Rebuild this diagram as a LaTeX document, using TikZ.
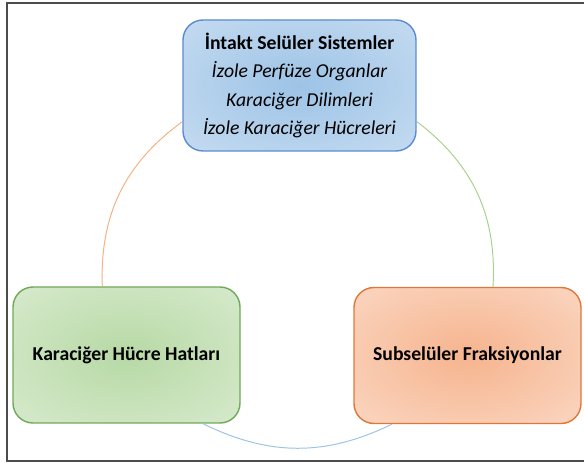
\documentclass[tikz,border=0pt]{standalone}
\usepackage{fontspec}
\setmainfont{Carlito}
\definecolor{blueline}{HTML}{5B8BD0}
\definecolor{bluein}{HTML}{9DC3E6}
\definecolor{blueout}{HTML}{D5E5F5}
\definecolor{greenline}{HTML}{72A85A}
\definecolor{greenin}{HTML}{B7D9A5}
\definecolor{greenout}{HTML}{E3F0DC}
\definecolor{orangeline}{HTML}{E0773A}
\definecolor{orangein}{HTML}{F6B48E}
\definecolor{orangeout}{HTML}{FCE3D5}
\definecolor{arcorange}{HTML}{F4B183}
\definecolor{arcgreen}{HTML}{A9D18E}
\definecolor{arcblue}{HTML}{9DC3E6}
\pgfdeclareradialshading{blueglow}{\pgfpointorigin}{color(0bp)=(bluein); color(50bp)=(blueout); color(75bp)=(blueout)}
\pgfdeclareradialshading{greenglow}{\pgfpointorigin}{color(0bp)=(greenin); color(50bp)=(greenout); color(75bp)=(greenout)}
\pgfdeclareradialshading{orangeglow}{\pgfpointorigin}{color(0bp)=(orangein); color(50bp)=(orangeout); color(75bp)=(orangeout)}
\begin{document}
\begin{tikzpicture}[
  box/.style={rounded corners=0.5cm, line width=1pt, inner sep=0pt, align=center, font=\fontsize{14}{20}\selectfont},
  sidebox/.style={box, minimum width=5.675cm, minimum height=3.4cm, font=\fontsize{14}{20}\selectfont\bfseries},
  ring/.style={line width=0.7pt}]
\useasboundingbox (0,0) rectangle (14.6,11.575);
\draw[line width=1.2pt, black!70] (14.6,11.5) -- (0.175,11.5) -- (0.175,0.05) -- (14.6,0.05);
\node[box, draw=blueline, shading=blueglow, minimum width=5.825cm, minimum height=3.275cm] (tsys) at (7.4875,9.4375){\textbf{İntakt Selüler Sistemler}\\\textit{İzole Perfüze Organlar}\\\textit{Karaciğer Dilimleri}\\\textit{İzole Karaciğer Hücreleri}};
\node[sidebox, draw=greenline, shading=greenglow] (hatlar) at (3.1625,2.7){Karaciğer Hücre Hatları};
\node[sidebox, draw=orangeline, shading=orangeglow] (fraks) at (11.6875,2.6875){Subselüler Fraksiyonlar};
\coordinate (o1) at ([yshift=-0.905cm]tsys.west);
\coordinate (o2) at ([xshift=-0.605cm]hatlar.north);
\coordinate (g1) at ([yshift=-0.9cm]tsys.east);
\coordinate (g2) at ([xshift=0.6375cm]fraks.north);
\coordinate (b1) at ([xshift=1.9125cm]hatlar.south);
\coordinate (b2) at ([xshift=-1.8875cm]fraks.south);
\draw[ring, arcorange](o1) to[bend right=28] (o2);
\draw[ring, arcgreen](g1) to[bend left=28] (g2);
\draw[ring, arcblue](b1) to[bend right=26] (b2);
\end{tikzpicture}
\end{document}
